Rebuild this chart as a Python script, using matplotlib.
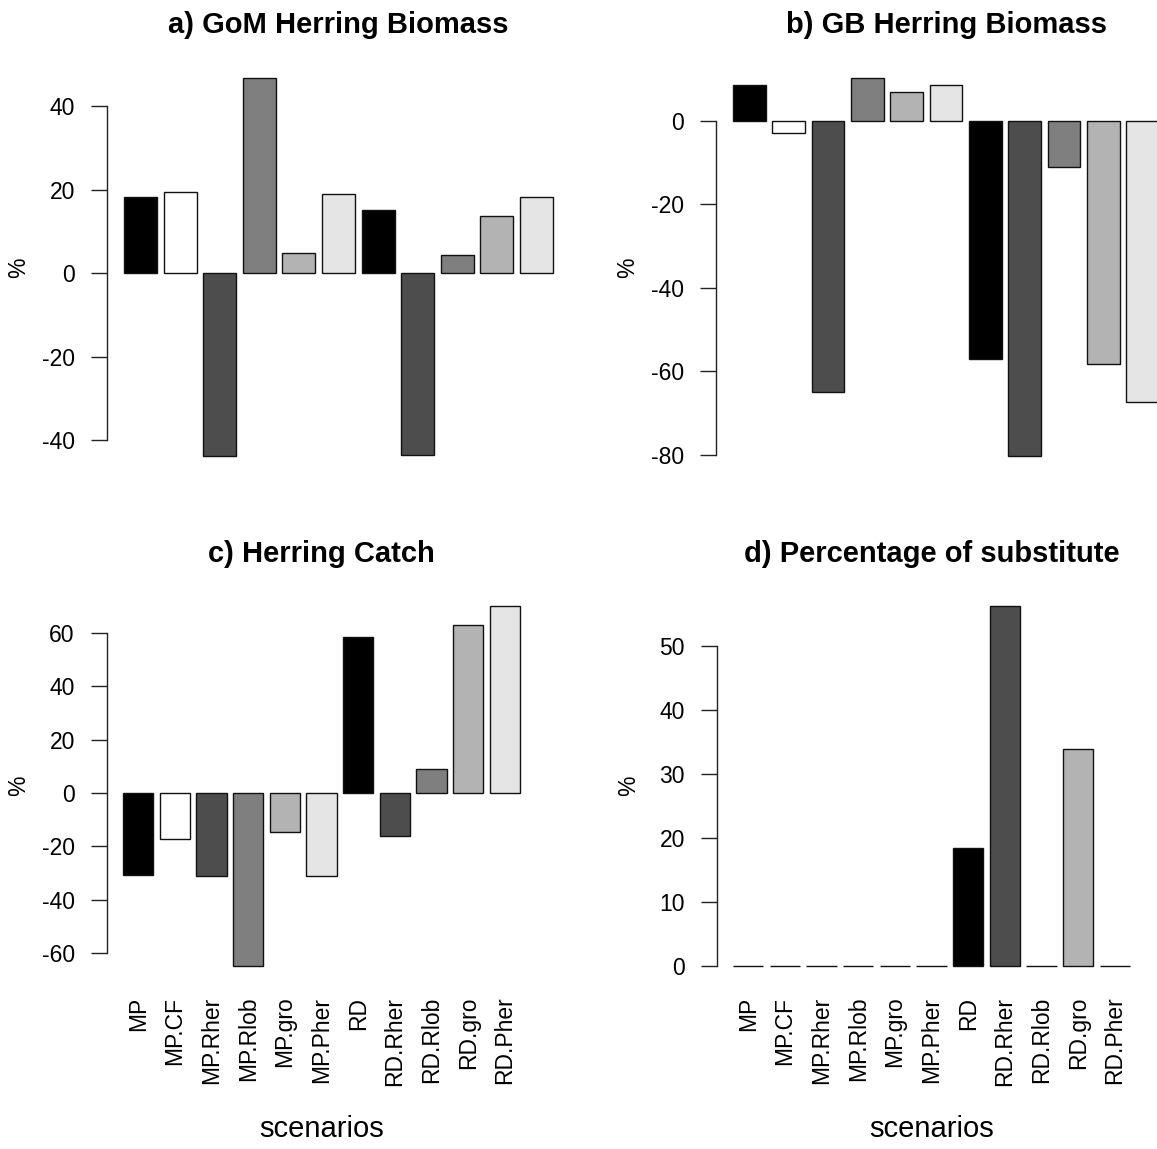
import numpy as np
import matplotlib
matplotlib.use("Agg")
import matplotlib.pyplot as plt

plt.rcParams["font.family"] = ["Liberation Sans", "DejaVu Sans"]

scenarios = ["MP", "MP.CF", "MP.Rher", "MP.Rlob", "MP.gro", "MP.Pher",
             "RD", "RD.Rher", "RD.Rlob", "RD.gro", "RD.Pher"]
bar_colors = ["#000000", "#FFFFFF", "#4D4D4D", "#7F7F7F", "#B3B3B3", "#E5E5E5",
              "#000000", "#4D4D4D", "#7F7F7F", "#B3B3B3", "#E5E5E5"]

gom_biomass = [18.2, 19.5, -43.9, 46.8, 4.85, 19.1, 15.1, -43.5, 4.45, 13.8, 18.2]
gb_biomass = [8.6, -3.0, -64.9, 10.2, 6.8, 8.6, -57.0, -80.4, -11.1, -58.2, -67.4]
herring_catch = [-30.6, -17.4, -31.2, -64.7, -14.7, -31.2, 58.3, -16.0, 8.8, 63.1, 70.1]
substitute_pct = [0, 0, 0, 0, 0, 0, 18.4, 56.3, 0, 33.9, 0]

titles = ["a) GoM Herring Biomass", "b) GB Herring Biomass",
          "c) Herring Catch", "d) Percentage of substitute"]
yticks = [[-40, -20, 0, 20, 40],
          [-80, -60, -40, -20, 0],
          [-60, -40, -20, 0, 20, 40, 60],
          [0, 10, 20, 30, 40, 50]]

W, H = 1157, 1149
DPI = 100
fig = plt.figure(figsize=(W / DPI, H / DPI), dpi=DPI)

# plot regions in pixels: (left, right, top, bottom)
regions = [(107, 570, 63, 471.5),
           (716, 1176, 63, 471.5),
           (107, 536, 591.5, 980),
           (717, 1146, 591.5, 980)]

series = [gom_biomass, gb_biomass, herring_catch, substitute_pct]

TICK_FS = 16.5
n = len(scenarios)
centers = 0.7 + 1.2 * np.arange(n)

for i, (vals, (l, r, t, b)) in enumerate(zip(series, regions)):
    ax = fig.add_axes([l / W, 1 - b / H, (r - l) / W, (b - t) / H])
    ax.bar(centers, vals, width=1.0, color=bar_colors,
           edgecolor="#111111", linewidth=1.0, zorder=2)
    lo, hi = min(min(vals), 0), max(max(vals), 0)
    d = hi - lo
    ax.set_ylim(lo - 0.04 * d, hi + 0.04 * d)
    ax.set_xlim(0.2 - 0.52, 13.2 + 0.52)
    for s in ["top", "right", "bottom"]:
        ax.spines[s].set_visible(False)
    ax.spines["left"].set_bounds(min(yticks[i]), max(yticks[i]))
    ax.spines["left"].set_linewidth(1.0)
    ax.spines["left"].set_color("#222222")
    ax.set_yticks(yticks[i])
    ax.set_yticklabels([str(v) for v in yticks[i]], fontsize=TICK_FS)
    ax.tick_params(axis="y", length=11.2, width=1.0, pad=12, color="#222222")
    if i >= 2:
        ax.set_xticks(centers)
        ax.set_xticklabels(scenarios, rotation=90, fontsize=TICK_FS, va="top")
        ax.tick_params(axis="x", length=0, pad=12)
        fig.text((l + r) / 2 / W, 1 - 1137 / H, "scenarios", ha="center",
                 va="baseline", fontsize=21)
    else:
        ax.set_xticks([])
    ax.set_title(titles[i], fontsize=21, fontweight="bold", pad=21.5)
    fig.text((l - 88) / W, 1 - (t + b) / 2 / H, "%", rotation=90,
             ha="center", va="center", fontsize=TICK_FS)

fig.savefig("out.png", dpi=DPI)
